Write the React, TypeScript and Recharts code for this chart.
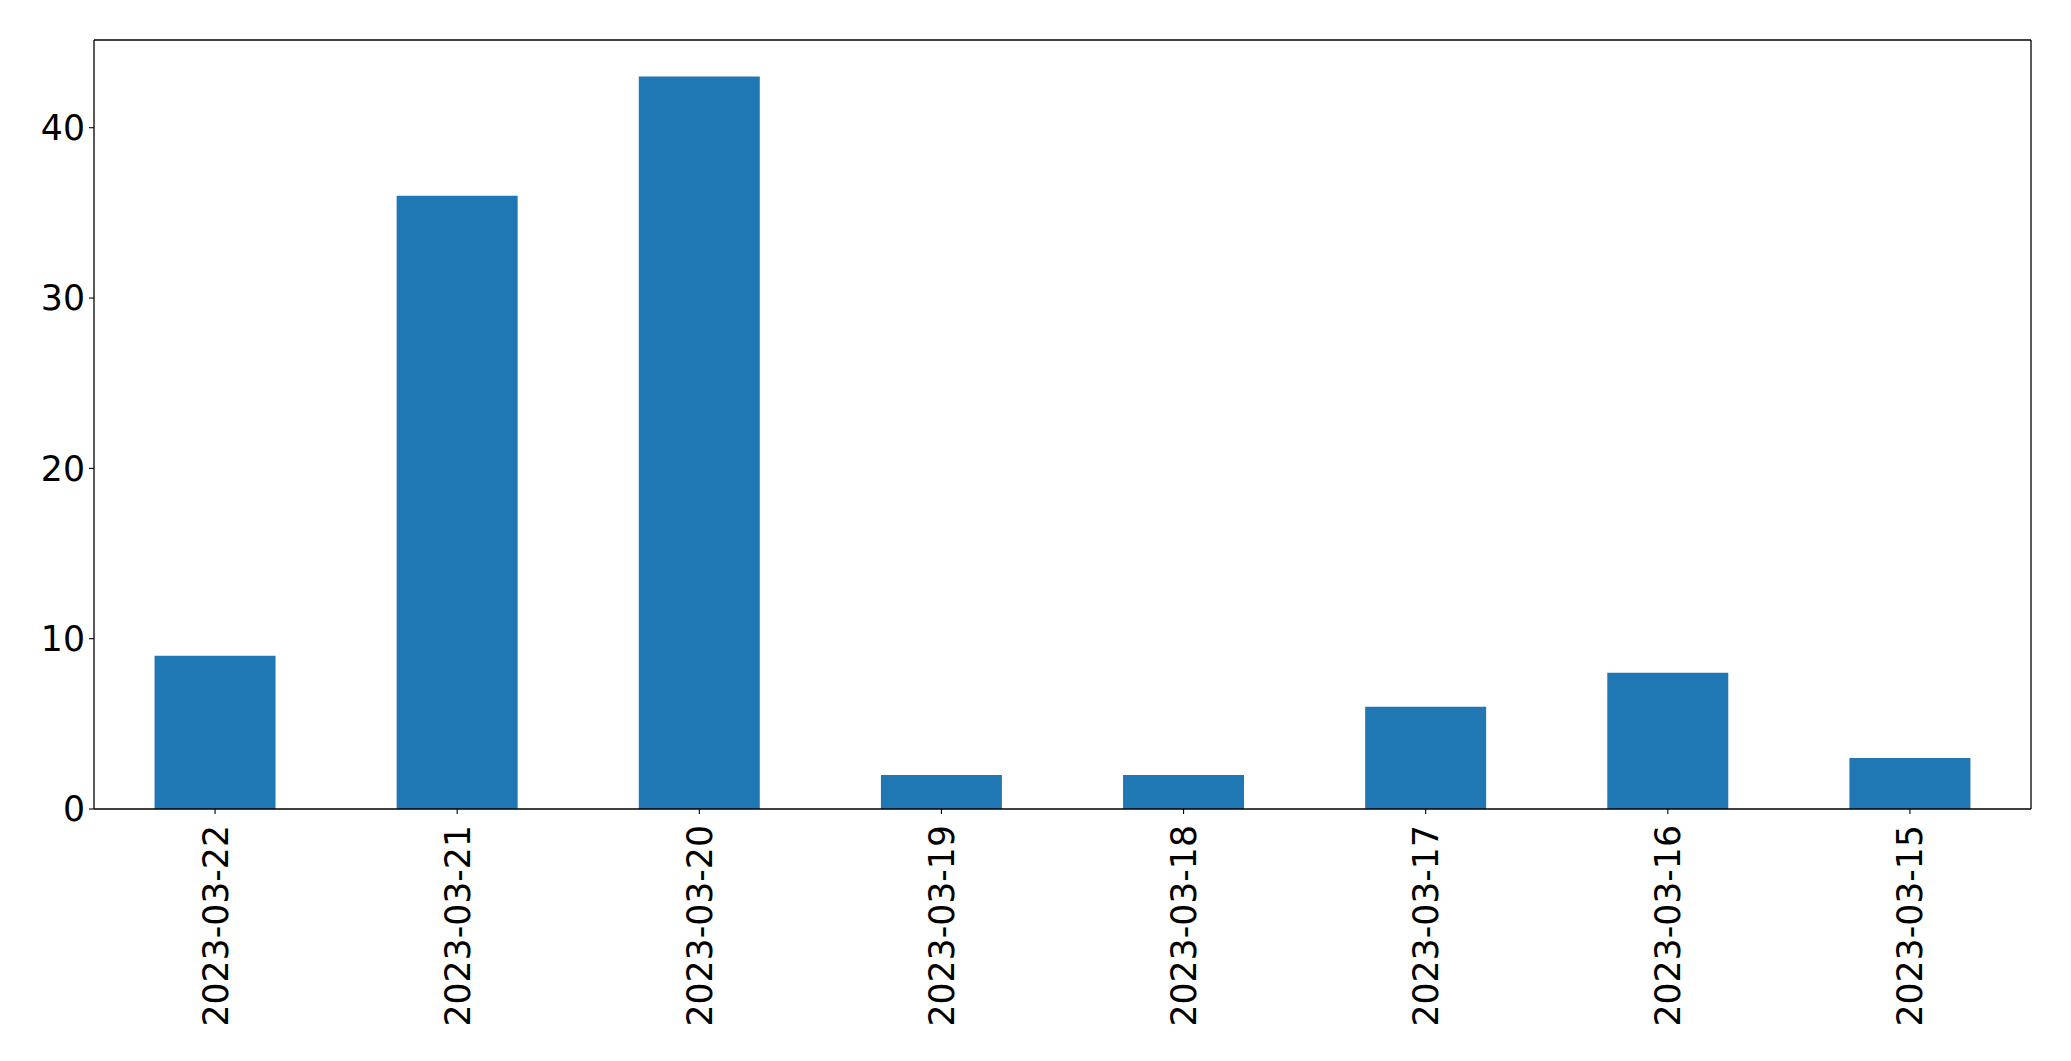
import { Bar, BarChart, XAxis, YAxis } from "recharts";

const dates = [
  "2023-03-22",
  "2023-03-21",
  "2023-03-20",
  "2023-03-19",
  "2023-03-18",
  "2023-03-17",
  "2023-03-16",
  "2023-03-15",
];
const counts = [9, 36, 43, 2, 2, 6, 8, 3];
const yTicks = [0, 10, 20, 30, 40];

const FONT = "'DejaVu Sans', sans-serif";
const FONT_SIZE = 34.7;

function DateTick({ x, y, payload }: { x?: number; y?: number; payload?: { value: string } }) {
  return (
    <text
      x={0}
      y={0}
      transform={`translate(${x},${(y ?? 0) + 9}) rotate(-90)`}
      textAnchor="end"
      dy="0.36em"
      fontSize={FONT_SIZE}
      fontFamily={FONT}
      fill="#000"
    >
      {payload?.value}
    </text>
  );
}

export default function App() {
  const data = dates.map((date, i) => ({ date, count: counts[i] }));

  return (
    <div style={{ position: "absolute", left: 0, top: 0, background: "#fff" }}>
      <BarChart
        width={2071}
        height={1061}
        data={data}
        margin={{ top: 39, right: 39, left: 0, bottom: 0 }}
        barCategoryGap="25%"
      >
        <XAxis
          dataKey="date"
          height={252}
          interval={0}
          tickSize={5}
          tick={<DateTick />}
          axisLine={{ stroke: "#000", strokeWidth: 1.3 }}
          tickLine={{ stroke: "#000", strokeWidth: 1.1 }}
        />
        <XAxis
          xAxisId="top"
          dataKey="date"
          orientation="top"
          height={1}
          tick={false}
          tickLine={false}
          axisLine={{ stroke: "#000", strokeWidth: 1.3 }}
        />
        <YAxis
          width={94}
          domain={[0, 45.15]}
          ticks={yTicks}
          interval={0}
          tickSize={5}
          tickMargin={4}
          allowDataOverflow
          tick={{ fontSize: FONT_SIZE, fontFamily: FONT, fill: "#000" }}
          axisLine={{ stroke: "#000", strokeWidth: 1.3 }}
          tickLine={{ stroke: "#000", strokeWidth: 1.1 }}
        />
        <YAxis
          yAxisId="right"
          orientation="right"
          width={1}
          domain={[0, 45.15]}
          tick={false}
          tickLine={false}
          axisLine={{ stroke: "#000", strokeWidth: 1.3 }}
        />
        <Bar dataKey="count" fill="#1f77b4" isAnimationActive={false} />
      </BarChart>
    </div>
  );
}
